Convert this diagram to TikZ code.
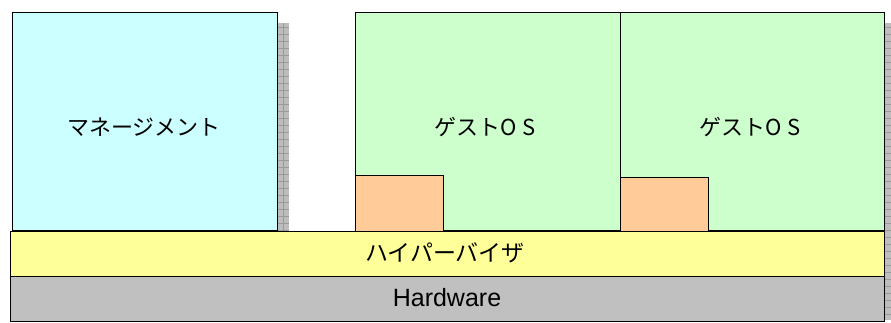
\documentclass[tikz,border=0pt]{standalone}
\usepackage{fontspec}
\setmainfont{Liberation Sans}
\newfontfamily\jp{Noto Sans CJK JP}
\definecolor{mgmtcyan}{HTML}{CCFFFF}
\definecolor{guestgreen}{HTML}{CCFFCC}
\definecolor{devorange}{HTML}{FFCC99}
\definecolor{hvyellow}{HTML}{FFFF99}
\definecolor{hwgray}{HTML}{C0C0C0}
\definecolor{shadowgray}{HTML}{BDBDBD}
\definecolor{shadowline}{HTML}{9A9A9A}
\tikzset{
  box/.style={draw=black, line width=1.4pt, inner sep=0pt, anchor=north west},
  jplabel/.style={font=\jp\fontsize{22}{26}\selectfont, text=black},
  hvlabelstyle/.style={font=\jp\fontsize{23}{27}\selectfont, text=black},
  hwlabel/.style={font=\fontsize{25}{29}\selectfont, text=black},
  shadowgrid/.style={draw=shadowline, line width=0.4pt}
}
\begin{document}
\begin{tikzpicture}[x=1pt,y=-1pt]
\useasboundingbox (0,0) rectangle (891,322);
% shadows
\fill[shadowgray] (277,23) rectangle (289,230);
\foreach \yy in {27,34,...,230} \draw[shadowgrid] (277,\yy) -- (289,\yy);
\draw[shadowgrid] (283,23) -- (283,230);
\fill[shadowgray] (885,23) rectangle (897,320);
\foreach \yy in {27,34,...,320} \draw[shadowgrid] (885,\yy) -- (897,\yy);
% boxes
\node[box, fill=mgmtcyan, minimum width=265pt, minimum height=218pt] (mgmt) at (12,12) {};
\node[box, fill=guestgreen, minimum width=265pt, minimum height=218pt] (guest1) at (355,12) {};
\node[box, fill=guestgreen, minimum width=264pt, minimum height=218pt] (guest2) at (620,12) {};
\node[box, fill=devorange, minimum width=88pt, minimum height=56pt] (dev1) at (355,174.5) {};
\node[box, fill=devorange, minimum width=88pt, minimum height=54pt] (dev2) at (620,176.5) {};
\node[box, fill=hvyellow, minimum width=874pt, minimum height=45pt] (hv) at (10,230.5) {};
\node[box, fill=hwgray, minimum width=874pt, minimum height=45pt] (hw) at (10,275.5) {};
% labels
\node[jplabel] (mgmtlabel) at (144,127) {マネージメント};
\node[jplabel] (guest1label) at (485,127) {ゲストO S};
\node[jplabel] (guest2label) at (750,127) {ゲストO S};
\node[hvlabelstyle] (hvlabel) at (445,253) {ハイパーバイザ};
\node[hwlabel] (hwlabel) at (447,298) {Hardware};
\end{tikzpicture}
\end{document}
